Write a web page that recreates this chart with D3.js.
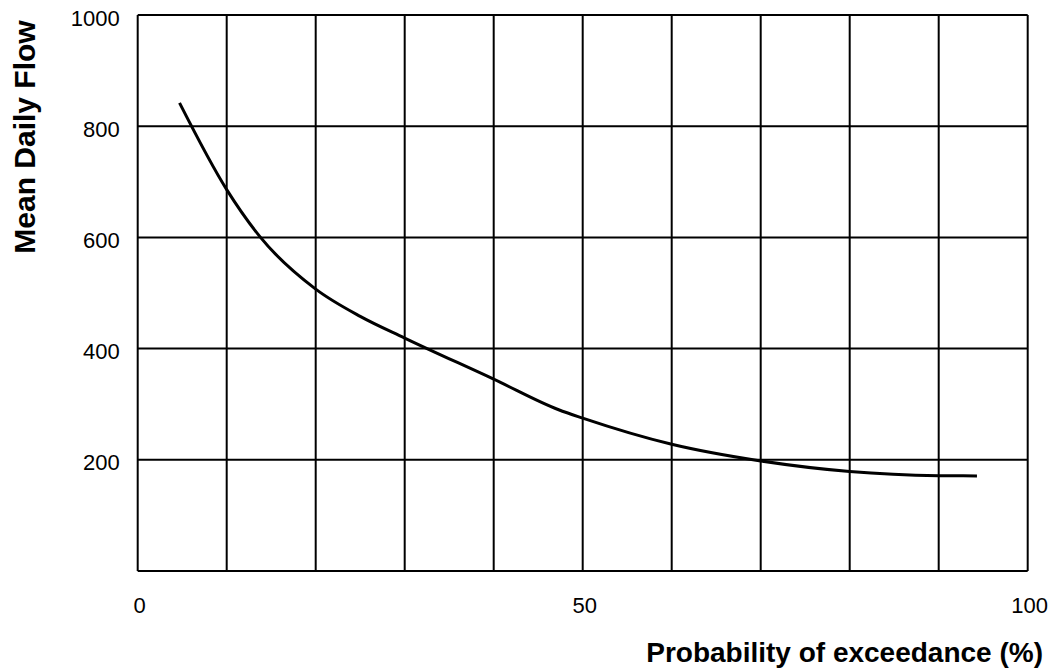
<!DOCTYPE html>
<html>
<head>
<meta charset="utf-8">
<script src="https://cdn.jsdelivr.net/npm/d3@7"></script>
<style>
  html, body { margin: 0; padding: 0; background: #fff; }
  svg { display: block; }
  text { font-family: "Liberation Sans", Arial, sans-serif; fill: #000; }
</style>
</head>
<body>
<svg id="chart" width="1059" height="669"></svg>
<script>
// Data
const probability = [4.7, 10, 13.8, 20, 25, 30, 40, 47.3, 50, 60, 70, 80, 90, 94.3];
const flow        = [842, 686, 600, 507, 458, 419, 345, 290, 275, 228, 198, 179, 171.5, 171];
const xTickLabels = [0, 50, 100];
const yTickLabels = [200, 400, 600, 800, 1000];
const xGrid = d3.range(0, 101, 10);
const yGrid = d3.range(0, 1001, 200);
const xTitle = "Probability of exceedance (%)";
const yTitle = "Mean Daily Flow";

const svg = d3.select("#chart");
const W = 1059, H = 669;
const margin = { left: 137.7, right: W - 1027.7, top: 15, bottom: H - 571 };

const x = d3.scaleLinear().domain([0, 100]).range([margin.left, W - margin.right]);
const y = d3.scaleLinear().domain([0, 1000]).range([H - margin.bottom, margin.top]);

// grid
const g = svg.append("g");
g.selectAll("line.vx").data(xGrid).enter().append("line")
  .attr("x1", d => x(d)).attr("x2", d => x(d))
  .attr("y1", y(0)).attr("y2", y(1000))
  .attr("stroke", "#000").attr("stroke-width", 2);
g.selectAll("line.hy").data(yGrid).enter().append("line")
  .attr("y1", d => y(d)).attr("y2", d => y(d))
  .attr("x1", x(0)).attr("x2", x(100))
  .attr("stroke", "#000").attr("stroke-width", 2);

// y tick labels
svg.append("g").selectAll("text").data(yTickLabels).enter().append("text")
  .attr("x", x(0) - 18).attr("y", d => y(d) + 3)
  .attr("text-anchor", "end").attr("dominant-baseline", "central")
  .style("font-size", "22px")
  .text(d => d);

// x tick labels
svg.append("g").selectAll("text").data(xTickLabels).enter().append("text")
  .attr("x", d => x(d) + 2).attr("y", 613)
  .attr("text-anchor", "middle")
  .style("font-size", "22px")
  .text(d => d);

// curve
const line = d3.line().x((d, i) => x(probability[i])).y((d, i) => y(flow[i])).curve(d3.curveMonotoneX);
svg.append("path").datum(flow)
  .attr("d", line)
  .attr("fill", "none").attr("stroke", "#000").attr("stroke-width", 3);

// titles
svg.append("text").attr("x", 1043).attr("y", 662)
  .attr("text-anchor", "end").style("font-size", "28px").style("font-weight", "bold")
  .text(xTitle);
svg.append("text").attr("transform", "translate(35,137) rotate(-90)")
  .attr("text-anchor", "middle").style("font-size", "30px").style("font-weight", "bold")
  .text(yTitle);
</script>
</body>
</html>
